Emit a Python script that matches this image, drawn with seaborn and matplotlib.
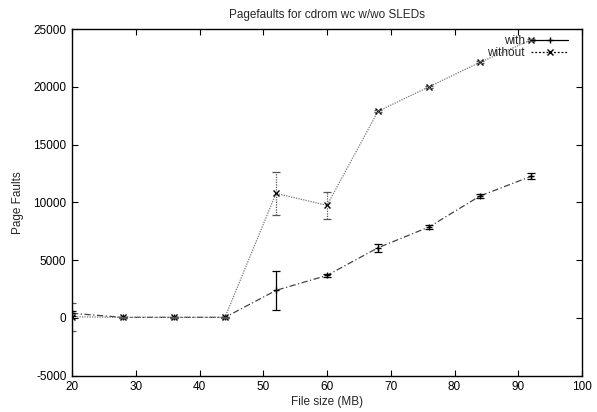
import numpy as np
import pandas as pd
import matplotlib
matplotlib.use("Agg")
import matplotlib.pyplot as plt
import seaborn as sns
from matplotlib.lines import Line2D

# data (file size in MB vs. page faults)
file_size = [20, 28, 36, 44, 52, 60, 68, 76, 84, 92]
with_sleds = [400, 50, 50, 50, 2380, 3680, 6070, 7870, 10550, 12250]
with_err = [200, 60, 60, 60, 1700, 150, 330, 200, 200, 250]
without_sleds = [100, 50, 50, 50, 10780, 9740, 17880, 20000, 22120, 24050]
without_err = [1200, 60, 60, 60, 1850, 1150, 100, 100, 100, 100]

df = pd.DataFrame({
    "size": file_size * 2,
    "faults": with_sleds + without_sleds,
    "series": ["with"] * len(file_size) + ["without"] * len(file_size),
})

sns.set_style("ticks")
plt.rcParams["font.family"] = ["Liberation Sans", "DejaVu Sans"]
plt.rcParams["font.size"] = 8.5
plt.rcParams["axes.unicode_minus"] = False

fig = plt.figure(figsize=(5.97, 4.12), dpi=100)
ax = fig.add_axes([0.1206, 0.0881, 0.8543, 0.8415])

# lines + markers
sns.lineplot(data=df[df.series == "with"], x="size", y="faults", ax=ax,
             color="#444444", linestyle=(0, (5, 2, 1, 2)), linewidth=0.9,
             marker="+", markersize=5, markeredgecolor="black",
             markeredgewidth=1.0, legend=False)
sns.lineplot(data=df[df.series == "without"], x="size", y="faults", ax=ax,
             color="#777777", linestyle=(0, (1, 1)), linewidth=0.9,
             marker="x", markersize=4, markeredgecolor="black",
             markeredgewidth=1.0, legend=False)

# error bars
ax.errorbar(file_size, with_sleds, yerr=with_err, fmt="none",
            ecolor="black", elinewidth=0.9, capsize=2.8, capthick=0.9)
eb = ax.errorbar(file_size, without_sleds, yerr=without_err, fmt="none",
                 ecolor="#555555", elinewidth=0.9, capsize=2.8, capthick=0.9)
for lc in eb[2]:
    lc.set_linestyle((0, (1, 1)))

ax.set_xlim(20, 100)
ax.set_ylim(-5000, 25000)
ax.set_xticks(np.arange(20, 101, 10))
ax.set_yticks(np.arange(-5000, 25001, 5000))

ax.set_title("Pagefaults for cdrom wc w/wo SLEDs", fontsize=8.5, pad=8)
ax.set_xlabel("File size (MB)", fontsize=8.5, labelpad=2)
ax.set_ylabel("Page Faults", fontsize=8.5, labelpad=7)

for side in ["top", "right", "bottom", "left"]:
    ax.spines[side].set_visible(True)
    ax.spines[side].set_color("black")
    ax.spines[side].set_linewidth(1.0)
ax.tick_params(direction="in", length=4, width=0.8, top=True, right=True,
               labelsize=8.5, colors="black", pad=4)

handles = [
    Line2D([], [], color="black", linestyle="-", linewidth=0.9, marker="+",
           markersize=5, markeredgewidth=1.0),
    Line2D([], [], color="black", linestyle=(0, (1.5, 1.5)), linewidth=0.9,
           marker="x", markersize=4, markeredgewidth=1.0),
]
ax.legend(handles, ["with", "without"], loc="upper right",
          bbox_to_anchor=(0.985, 1.0), frameon=False, markerfirst=False,
          fontsize=8.5, handlelength=3.2, handletextpad=0.5,
          labelspacing=0.0, borderaxespad=0.1)

fig.savefig("out.png", dpi=100)
